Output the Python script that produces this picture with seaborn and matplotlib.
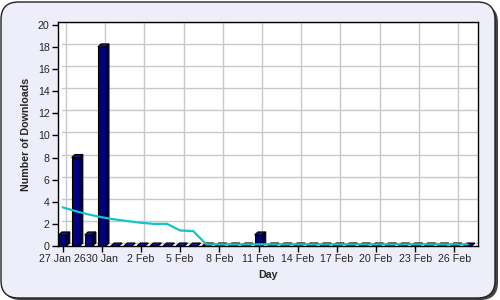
import matplotlib
matplotlib.use("Agg")
import matplotlib.pyplot as plt
import matplotlib.transforms as mtrans
from matplotlib.patches import FancyBboxPatch, Polygon
import seaborn as sns
import pandas as pd

# ---- data ----
day_index = list(range(32))  # 27 Jan .. 27 Feb
downloads = [1, 8, 1, 18, 0, 0, 0, 0, 0, 0, 0, 0, 0, 0, 0, 1,
             0, 0, 0, 0, 0, 0, 0, 0, 0, 0, 0, 0, 0, 0, 0, 0]
trend = [3.5, 3.15, 2.85, 2.6, 2.4, 2.25, 2.1, 2.0, 2.0, 1.4, 1.35, 0.15,
         0.15, 0.15, 0.15, 0.15, 0.15, 0.15, 0.15, 0.15, 0.15, 0.15, 0.15, 0.15,
         0.15, 0.15, 0.15, 0.15, 0.15, 0.15, 0.15, 0.15]
tick_positions = [0, 3, 6, 9, 12, 15, 18, 21, 24, 27, 30]
tick_labels = ["27 Jan 26", "30 Jan", "2 Feb", "5 Feb", "8 Feb", "11 Feb",
               "14 Feb", "17 Feb", "20 Feb", "23 Feb", "26 Feb"]
y_ticks = list(range(0, 21, 2))

df = pd.DataFrame({"day": day_index, "downloads": downloads, "trend": trend})

sns.set_theme(style="white")
plt.rcParams["font.family"] = ["Liberation Sans", "DejaVu Sans"]

W, H = 500, 300
fig = plt.figure(figsize=(5, 3), dpi=100)
fig.patch.set_facecolor("white")

# rounded background panel with shadow
shadow = FancyBboxPatch((3 / W, 0 / H), 495 / W, 295 / H,
                        boxstyle="round,pad=0,rounding_size=0.035",
                        transform=fig.transFigure, facecolor="#444444",
                        edgecolor="none", zorder=0, mutation_aspect=W / H)
panel = FancyBboxPatch((1 / W, 2 / H), 494 / W, 296 / H,
                       boxstyle="round,pad=0,rounding_size=0.035",
                       transform=fig.transFigure, facecolor="#EEEEFB",
                       edgecolor="#222222", linewidth=1, zorder=1,
                       mutation_aspect=W / H)
fig.patches.extend([shadow, panel])

ax = fig.add_axes([58 / W, 1 - 246 / H, 420 / W, 224 / H])
ax.set_zorder(2)
ax.set_facecolor("white")

sns.barplot(data=df, x="day", y="downloads", order=day_index, color="#000080",
            width=0.6, edgecolor="black", linewidth=0.8, saturation=1,
            ax=ax, zorder=3)

# 3D faces derived from bar geometry
dx, dy = 0.25, 0.27
for p in list(ax.patches):
    x0, w, h = p.get_x(), p.get_width(), p.get_height()
    side = Polygon([(x0 + w, 0), (x0 + w + dx, dy), (x0 + w + dx, h + dy), (x0 + w, h)],
                   closed=True, facecolor="#00004A", edgecolor="black", linewidth=0.8, zorder=3)
    top = Polygon([(x0, h), (x0 + dx, h + dy), (x0 + w + dx, h + dy), (x0 + w, h)],
                  closed=True, facecolor="#12129A", edgecolor="black", linewidth=0.8, zorder=3)
    ax.add_patch(side)
    ax.add_patch(top)

sns.lineplot(data=df, x="day", y="trend", color="#14C4C8", linewidth=1.6,
             ax=ax, zorder=5)

ax.set_xlim(-0.35, 31.8)
ax.set_ylim(0, 20.25)
ax.set_xticks(tick_positions)
ax.set_xticklabels(tick_labels, fontsize=7.7)
ax.set_yticks(y_ticks)
ax.set_yticklabels([str(v) for v in y_ticks], fontsize=7.7)
ax.tick_params(axis="both", direction="out", length=4, width=1, color="black",
               pad=2, bottom=True, left=True)

ax.grid(True, color="#C8C8C8", linewidth=1)
ax.set_axisbelow(True)
off = mtrans.ScaledTranslation(3.5 / 100, 3 / 100, fig.dpi_scale_trans)
for gl in ax.xaxis.get_gridlines() + ax.yaxis.get_gridlines():
    gl.set_transform(gl.get_transform() + off)

for s in ax.spines.values():
    s.set_visible(True)
    s.set_color("black")
    s.set_linewidth(1)

ax.set_xlabel("Day", fontsize=7.7, fontweight="bold", labelpad=4)
ax.set_ylabel("Number of Downloads", fontsize=7.7, fontweight="bold", labelpad=5)

fig.savefig("out.png", dpi=100)
